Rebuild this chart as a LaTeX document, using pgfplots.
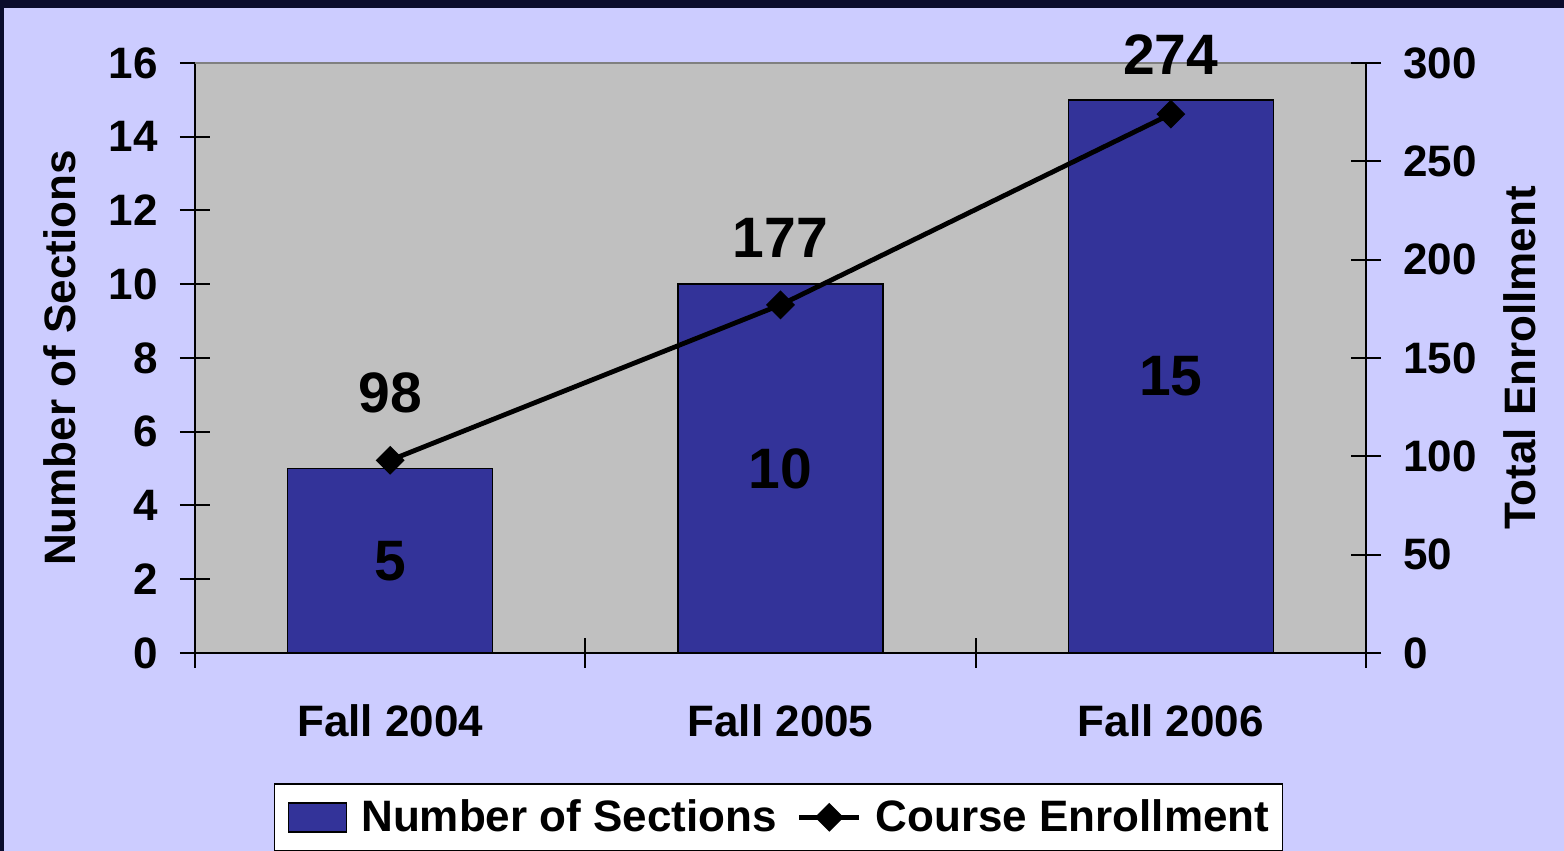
\documentclass[border=0pt]{standalone}
\usepackage{fontspec}
\setmainfont{Liberation Sans}
\usepackage{pgfplots}
\pgfplotsset{compat=1.18}

\definecolor{lavender}{HTML}{CCCCFF}
\definecolor{plotgray}{HTML}{C0C0C0}
\definecolor{barblue}{HTML}{333399}
\definecolor{navyband}{HTML}{0A0C2C}
\definecolor{edgegray}{HTML}{808080}

\newcommand\ff[1]{\fontsize{#1}{#1}\selectfont\bfseries}

\pgfplotsset{
  common/.style={
    scale only axis, width=585.5pt, height=295pt,
    at={(97.5pt,99pt)}, anchor=south west,
    xmin=-0.5, xmax=2.5, ymin=0,
    clip=false,
    tick align=center,
    major tick length=15pt,
    tick style={black, line width=1pt},
    axis line style={black, line width=1pt},
    tick label style={font=\ff{22}},
    label style={font=\ff{22}},
    /pgf/number format/assume math mode=true,
  },
  barlegend/.style={legend image code/.code={%
    \draw[##1] (0pt,-7.25pt) rectangle (29pt,7.25pt);}},
  linelegend/.style={legend image code/.code={%
    \draw[mark repeat=2, mark phase=2, ##1, sharp plot]
      plot coordinates {(0pt,0pt) (15pt,0pt) (30pt,0pt)};}},
}

\begin{document}
\begin{tikzpicture}
\fill[navyband] (0,0) rectangle (782pt,425.5pt);
\fill[lavender] (2pt,0) rectangle (782pt,421.5pt);
\useasboundingbox (0,0) rectangle (782pt,425.5pt);

% sections (bars, left axis)
\begin{axis}[common,
    ymax=16, ytick={0,2,...,16},
    axis x line*=bottom, axis y line*=left,
    axis background/.style={fill=plotgray},
    xtick={-0.5,0.5,1.5,2.5},
    xticklabels={},
    extra x ticks={0,1,2},
    extra x tick labels={Fall 2004, Fall 2005, Fall 2006},
    extra x tick style={tick style={draw=none}},
    xticklabel style={inner sep=0pt, anchor=north},
    xticklabel shift=18pt,
    yticklabel style={inner sep=0pt},
    yticklabel shift=11pt,
    ylabel={Number of Sections},
    ylabel style={at={(axis description cs:-0.1153,0.5)}, anchor=center},
    legend columns=2,
    legend style={at={(0.4983,-0.2785)}, anchor=center,
        draw=black, line width=0.75pt, fill=white,
        inner xsep=6.5pt, inner ysep=8pt,
        nodes={inner sep=0pt, font=\ff{22}},
        /tikz/every odd column/.append style={column sep=7pt},
        /tikz/every even column/.append style={column sep=10pt}},
]
\addplot[ybar, bar width=102.5pt,
    fill=barblue, draw=black, line width=0.75pt, barlegend,
    nodes near coords,
    visualization depends on=y \as \rawy,
    every node near coord/.append style={font=\ff{28.5}, inner sep=0pt,
        anchor=center, shift={(axis direction cs:0,-\rawy/2)}}]
    coordinates {(0,5) (1,10) (2,15)};
\addlegendentry{Number of Sections}
\addlegendimage{black, line width=2.4pt, mark=square*, mark size=3.9pt,
    mark options={rotate=45, solid}, linelegend}
\addlegendentry{Course Enrollment}
\draw[edgegray, line width=0.75pt] (rel axis cs:0,1) -- (rel axis cs:1,1);
\end{axis}

% enrollment (line, right axis)
\begin{axis}[common,
    ymax=300, ytick={0,50,...,300},
    axis x line=none, axis y line*=right,
    yticklabel style={inner sep=0pt},
    yticklabel shift=11pt,
    ylabel={Total Enrollment},
    ylabel style={at={(axis description cs:1.1315,0.5)}, anchor=center},
]
\addplot[black, line width=2.4pt, mark=square*, mark size=3.9pt,
    mark options={rotate=45},
    nodes near coords,
    visualization depends on={ifthenelse(y>250,18.5,22.3) \as \lblshift},
    every node near coord/.append style={font=\ff{28.5}, inner sep=0pt,
        anchor=south, yshift=\lblshift*1pt}]
    coordinates {(0,98) (1,177) (2,274)};
\end{axis}
\end{tikzpicture}
\end{document}
